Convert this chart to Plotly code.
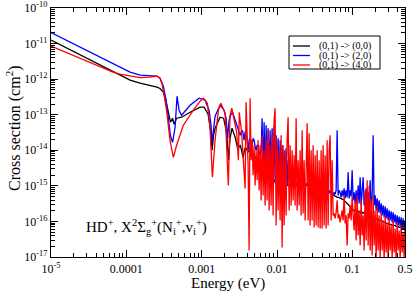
import plotly.graph_objects as go

# ---------------- data ----------------
# low-energy part, each series on its own points
black_E_low = [1.0e-5, 2.4e-5, 4.5e-5, 8.2e-5, 1.12e-4, 1.52e-4, 2.06e-4, 2.55e-4, 2.8e-4, 3.1e-4,
               3.27e-4, 3.47e-4, 3.63e-4, 3.86e-4, 4.11e-4, 4.30e-4, 4.65e-4, 5.41e-4, 7.02e-4, 9.53e-4,
               1.077e-3, 1.217e-3, 1.313e-3, 1.375e-3, 1.44e-3, 1.507e-3, 1.755e-3, 1.953e-3, 2.14e-3, 2.28e-3,
               2.38e-3, 2.53e-3, 2.78e-3, 3.04e-3, 3.14e-3]
black_S_low = [1.26e-11, 4.9e-12, 2.5e-12, 1.30e-12, 9.37e-13, 7.71e-13, 6.78e-13, 5.95e-13, 5.45e-13, 4.30e-13,
               3.11e-13, 1.734e-13, 1.034e-13, 6.15e-14, 7.97e-14, 5.40e-14, 7.97e-14, 8.50e-14, 1.177e-13, 1.625e-13,
               1.625e-13, 1.034e-13, 3.66e-14, 1.0e-14, 2.65e-14, 4.17e-14, 8.50e-14, 7.97e-14, 3.21e-14, 5.23e-15,
               2.18e-14, 4.17e-14, 2.33e-14, 1.0e-14, 1.30e-14]

blue_E_low = [1.0e-5, 2.4e-5, 4.5e-5, 8.2e-5, 1.12e-4, 1.52e-4, 2.06e-4, 2.55e-4, 2.8e-4, 3.1e-4,
              3.37e-4, 3.63e-4, 3.86e-4, 4.11e-4, 4.44e-4, 4.71e-4, 5.01e-4, 5.41e-4, 7.02e-4, 9.24e-4,
              1.109e-3, 1.253e-3, 1.332e-3, 1.375e-3, 1.44e-3, 1.507e-3, 1.755e-3, 1.98e-3, 2.11e-3, 2.21e-3,
              2.31e-3, 2.42e-3, 2.57e-3, 2.90e-3, 3.09e-3, 3.14e-3]
blue_S_low = [2.04e-11, 7.98e-12, 4.17e-12, 2.18e-12, 1.57e-12, 1.30e-12, 1.22e-12, 1.22e-12, 1.07e-12, 6.35e-13,
              2.56e-13, 8.50e-14, 2.48e-14, 1.68e-14, 4.44e-14, 3.32e-13, 1.34e-13, 9.68e-14, 1.85e-13, 2.91e-13,
              2.56e-13, 1.34e-13, 5.06e-14, 1.68e-14, 5.06e-14, 9.07e-14, 1.85e-13, 1.34e-13, 7.97e-14, 2.18e-14,
              7.0e-14, 9.68e-14, 1.177e-13, 5.76e-14, 3.66e-14, 3.01e-14]

red_E_low = [1.0e-5, 2.4e-5, 4.5e-5, 6.65e-5, 8.2e-5, 1.12e-4, 1.52e-4, 2.06e-4, 2.55e-4, 2.8e-4,
             2.98e-4, 3.17e-4, 3.42e-4, 3.80e-4, 4.21e-4, 4.65e-4, 5.71e-4, 7.76e-4, 9.53e-4, 1.058e-3,
             1.19e-3, 1.29e-3, 1.387e-3, 1.507e-3, 1.667e-3, 1.795e-3, 2.05e-3, 2.26e-3, 2.38e-3, 2.51e-3,
             2.69e-3, 2.92e-3, 3.07e-3, 3.16e-3]
red_S_low = [8.51e-12, 3.91e-12, 2.24e-12, 1.57e-12, 1.38e-12, 1.22e-12, 1.10e-12, 1.14e-12, 1.22e-12, 1.07e-12,
             7.2e-13, 3.54e-13, 1.34e-13, 1.91e-14, 6.35e-15, 1.38e-14, 5.06e-14, 1.34e-13, 2.40e-13, 2.91e-13,
             2.11e-13, 4.44e-14, 1.74e-15, 1.91e-14, 1.34e-13, 2.11e-13, 1.10e-13, 1.03e-15, 9.68e-14, 1.52e-13,
             7.0e-14, 3.21e-14, 5.23e-15, 1.177e-13]

# high-energy part: shared energy points (eV)
energy_hi = [
    3.236e-3, 3.337e-3, 3.440e-3, 3.547e-3, 3.657e-3, 3.771e-3, 3.888e-3, 4.009e-3, 4.133e-3, 4.262e-3,
    4.394e-3, 4.530e-3, 4.671e-3, 4.816e-3, 4.966e-3, 5.120e-3, 5.279e-3, 5.443e-3, 5.612e-3, 5.786e-3,
    5.966e-3, 6.151e-3, 6.342e-3, 6.539e-3, 6.742e-3, 6.951e-3, 7.167e-3, 7.390e-3, 7.619e-3, 7.856e-3,
    8.100e-3, 8.351e-3, 8.610e-3, 8.878e-3, 9.153e-3, 9.437e-3, 9.730e-3, 1.0032e-2, 1.0344e-2, 1.0665e-2,
    1.0996e-2, 1.1337e-2, 1.1689e-2, 1.2052e-2, 1.2426e-2, 1.2812e-2, 1.3210e-2, 1.3620e-2, 1.4043e-2, 1.4479e-2,
    1.4928e-2, 1.5392e-2, 1.5869e-2, 1.6362e-2, 1.6870e-2, 1.7394e-2, 1.7934e-2, 1.8491e-2, 1.9065e-2, 1.9657e-2,
    2.0267e-2, 2.0896e-2, 2.1545e-2, 2.2214e-2, 2.2904e-2, 2.3615e-2, 2.4348e-2, 2.5104e-2, 2.5883e-2, 2.6687e-2,
    2.7515e-2, 2.8370e-2, 2.9251e-2, 3.0159e-2, 3.1095e-2, 3.2060e-2, 3.3056e-2, 3.4082e-2, 3.5140e-2, 3.6231e-2,
    3.7356e-2, 3.8516e-2, 3.9712e-2, 4.0945e-2, 4.2216e-2, 4.3527e-2, 4.4878e-2, 4.6271e-2, 4.7708e-2, 4.9189e-2,
    5.0716e-2, 5.2291e-2, 5.3914e-2, 5.5588e-2, 5.7314e-2, 5.9093e-2, 6.0928e-2, 6.2820e-2, 6.4770e-2, 6.6781e-2,
    6.8854e-2, 7.0992e-2, 7.3196e-2, 7.5469e-2, 7.7812e-2, 8.0228e-2, 8.2718e-2, 8.5287e-2, 8.7934e-2, 9.0665e-2,
    9.3480e-2, 9.6382e-2, 9.9374e-2, 0.10246, 0.10564, 0.10892, 0.11230, 0.11579, 0.11938, 0.12309,
    0.12691, 0.13085, 0.13491, 0.13910, 0.14342, 0.14787, 0.15246, 0.15720, 0.16208, 0.16711,
    0.17230, 0.17765, 0.18316, 0.18885, 0.19471, 0.20076, 0.20699, 0.21342, 0.22004, 0.22687,
    0.23392, 0.24118, 0.24867, 0.25639, 0.26435, 0.27255, 0.28102, 0.28974, 0.29874, 0.30801,
    0.31757, 0.32743, 0.33760, 0.34808, 0.35888, 0.37003, 0.38151, 0.39336, 0.40557, 0.41816,
    0.43114, 0.44453, 0.45833, 0.47256, 0.48723, 0.50000]

black_S_hi = [
    1.38e-14, 1.14e-14, 8.78e-15, 6.35e-15, 8.78e-15, 1.14e-14, 1.14e-14, 1.00e-14, 8.78e-15, 1.00e-14,
    1.22e-14, 1.00e-14, 8.78e-15, 7.72e-15, 7.23e-15, 6.35e-15, 5.95e-15, 5.23e-15, 4.59e-15, 4.03e-15,
    3.54e-15, 3.32e-15, 3.11e-15, 2.73e-15, 2.40e-15, 2.40e-15, 2.25e-15, 1.98e-15, 1.85e-15, 1.74e-15,
    1.63e-15, 1.63e-15, 1.53e-15, 1.43e-15, 1.43e-15, 1.34e-15, 1.18e-15, 1.18e-15, 1.10e-15, 1.10e-15,
    1.03e-15, 1.05e-15, 9.9e-16, 1.03e-15, 1.08e-15, 1.03e-15, 9.8e-16, 1.03e-15, 1.06e-15, 1.02e-15,
    1.03e-15, 9.9e-16, 1.04e-15, 1.03e-15, 1.00e-15, 1.05e-15, 1.03e-15, 9.9e-16, 1.03e-15, 1.06e-15,
    1.03e-15, 1.00e-15, 1.03e-15, 1.05e-15, 1.02e-15, 9.9e-16, 1.03e-15, 1.04e-15, 1.01e-15, 1.03e-15,
    1.00e-15, 1.03e-15, 1.05e-15, 1.02e-15, 9.9e-16, 1.03e-15, 1.00e-15, 1.03e-15, 1.04e-15, 1.00e-15,
    1.03e-15, 1.01e-15, 1.03e-15, 9.9e-16, 1.00e-15, 9.68e-16, 8.50e-16, 7.97e-16, 7.47e-16, 7.47e-16,
    7.00e-16, 6.15e-16, 5.76e-16, 5.40e-16, 5.40e-16, 5.06e-16, 5.06e-16, 4.74e-16, 4.74e-16, 4.74e-16,
    4.44e-16, 4.44e-16, 4.16e-16, 4.16e-16, 3.90e-16, 3.66e-16, 3.43e-16, 3.21e-16, 3.01e-16, 2.82e-16,
    2.64e-16, 2.32e-16, 2.18e-16, 2.04e-16, 2.04e-16, 1.91e-16, 2.04e-16, 1.79e-16, 1.91e-16, 1.79e-16,
    1.91e-16, 1.68e-16, 1.79e-16, 1.68e-16, 1.79e-16, 1.68e-16, 1.68e-16, 1.58e-16, 1.58e-16, 1.48e-16,
    1.48e-16, 1.38e-16, 1.38e-16, 1.30e-16, 1.30e-16, 1.22e-16, 1.22e-16, 1.14e-16, 1.14e-16, 1.07e-16,
    1.07e-16, 1.07e-16, 1.00e-16, 1.00e-16, 9.38e-17, 9.38e-17, 8.79e-17, 8.79e-17, 8.79e-17, 8.23e-17,
    8.23e-17, 8.23e-17, 7.71e-17, 7.71e-17, 7.71e-17, 7.71e-17, 7.23e-17, 7.23e-17, 7.23e-17, 6.78e-17,
    6.78e-17, 6.78e-17, 6.35e-17, 6.35e-17, 6.35e-17, 6.35e-17]

blue_S_hi = [
    2.65e-14, 3.21e-14, 3.66e-14, 3.01e-14, 1.91e-14, 3.21e-14, 3.66e-14, 1.91e-14, 1.00e-14, 1.91e-14,
    2.18e-14, 1.68e-14, 1.38e-14, 2.18e-14, 1.91e-14, 1.30e-14, 1.00e-14, 1.38e-14, 1.38e-14, 8.78e-15,
    7.23e-15, 1.00e-14, 7.97e-14, 1.43e-15, 6.15e-14, 1.63e-15, 5.06e-14, 1.26e-15, 4.17e-14, 1.98e-15,
    3.66e-14, 1.18e-15, 4.17e-14, 1.63e-15, 5.06e-14, 1.18e-15, 2.65e-14, 1.43e-15, 2.18e-14, 1.03e-15,
    1.91e-14, 1.18e-15, 1.38e-14, 1.03e-15, 1.00e-14, 1.18e-15, 1.14e-14, 1.03e-15, 5.23e-15, 1.18e-15,
    2.73e-15, 1.03e-15, 1.63e-15, 1.10e-15, 1.26e-15, 1.03e-15, 1.18e-15, 1.10e-15, 1.18e-15, 1.03e-15,
    1.10e-15, 1.18e-15, 1.03e-15, 1.10e-15, 1.26e-15, 1.03e-15, 1.10e-15, 1.18e-15, 1.03e-15, 1.10e-15,
    9.07e-16, 1.03e-15, 8.50e-16, 9.68e-16, 7.47e-16, 1.03e-15, 8.50e-16, 6.56e-16, 9.68e-16, 7.47e-16,
    9.07e-16, 6.15e-16, 8.50e-16, 6.56e-16, 1.03e-15, 6.15e-16, 7.47e-16, 5.40e-16, 8.50e-16, 6.15e-16,
    7.47e-16, 5.76e-16, 7.47e-16, 5.40e-16, 6.56e-16, 5.76e-16, 7.47e-16, 3.66e-14, 5.40e-16, 7.47e-16,
    6.56e-16, 4.74e-16, 7.47e-16, 5.06e-16, 8.50e-16, 4.44e-16, 7.47e-16, 4.74e-16, 2.40e-15, 4.44e-16,
    7.47e-16, 5.06e-16, 2.73e-15, 3.90e-16, 6.56e-16, 3.21e-16, 7.47e-16, 2.82e-16, 1.03e-15, 3.21e-16,
    1.74e-15, 2.82e-16, 7.47e-16, 1.74e-15, 2.82e-16, 5.40e-16, 8.50e-16, 2.48e-16, 6.56e-16, 2.82e-16,
    1.43e-15, 2.48e-16, 5.40e-16, 2.65e-14, 2.82e-16, 5.40e-16, 2.04e-16, 4.44e-16, 1.79e-16, 3.90e-16,
    1.68e-16, 3.21e-16, 1.48e-16, 2.82e-16, 1.30e-16, 2.64e-16, 1.22e-16, 2.32e-16, 1.07e-16, 2.04e-16,
    1.07e-16, 1.91e-16, 9.38e-17, 1.79e-16, 9.38e-17, 1.58e-16, 8.23e-17, 1.48e-16, 7.71e-17, 1.38e-16,
    7.23e-17, 1.30e-16, 6.35e-17, 1.22e-16, 6.35e-17, 1.07e-16]

red_S_hi = [
    7.00e-14, 4.44e-14, 1.91e-14, 5.23e-15, 1.74e-15, 8.50e-16, 2.25e-13, 1.68e-14, 3.78e-15, 1.52e-17,
    2.91e-13, 5.23e-15, 1.91e-14, 1.98e-15, 1.38e-14, 1.03e-15, 1.00e-14, 1.43e-15, 1.91e-14, 7.47e-16,
    1.38e-14, 3.90e-16, 2.65e-14, 5.40e-16, 1.00e-14, 2.82e-16, 1.91e-14, 3.90e-16, 3.66e-14, 2.04e-16,
    1.38e-14, 2.82e-16, 2.65e-14, 1.48e-16, 7.00e-14, 1.52e-13, 7.71e-17, 1.91e-14, 2.04e-16, 1.00e-14,
    1.07e-16, 2.65e-14, 1.85e-17, 1.38e-14, 7.71e-17, 1.00e-14, 1.48e-16, 1.91e-14, 8.50e-14, 2.04e-16,
    1.38e-14, 2.82e-16, 1.00e-14, 3.90e-16, 7.23e-15, 2.82e-16, 7.97e-14, 2.04e-16, 5.23e-15, 2.82e-16,
    1.00e-14, 1.48e-16, 3.66e-14, 1.68e-16, 5.23e-15, 1.07e-16, 1.38e-14, 5.76e-14, 1.07e-16, 3.01e-14,
    7.71e-17, 1.00e-14, 1.07e-16, 1.38e-14, 6.78e-17, 7.23e-15, 7.71e-17, 1.00e-14, 6.78e-17, 5.23e-15,
    6.35e-17, 1.00e-14, 6.35e-17, 1.38e-14, 7.71e-17, 7.23e-15, 6.35e-17, 1.91e-14, 7.71e-17, 1.00e-14,
    2.65e-14, 1.07e-16, 5.23e-15, 1.48e-16, 1.68e-16, 1.22e-16, 1.79e-16, 3.90e-16, 1.22e-16, 1.58e-16,
    9.38e-17, 1.48e-16, 2.04e-16, 1.07e-16, 5.40e-16, 8.79e-17, 1.48e-16, 2.11e-17, 1.68e-16, 1.22e-16,
    2.82e-16, 1.07e-16, 5.06e-16, 1.48e-16, 5.57e-17, 3.90e-16, 2.92e-17, 5.40e-16, 4.03e-17, 2.04e-16,
    2.11e-17, 3.90e-16, 4.03e-17, 1.48e-16, 1.52e-17, 7.47e-16, 2.92e-17, 1.43e-15, 2.11e-17, 1.03e-15,
    1.52e-17, 3.90e-16, 1.10e-17, 5.40e-16, 2.11e-17, 2.04e-16, 9.1e-18, 2.82e-16, 1.52e-17, 1.48e-16,
    9.1e-18, 1.79e-16, 1.52e-17, 1.07e-16, 8.0e-18, 1.48e-16, 1.34e-17, 9.38e-17, 8.0e-18, 1.22e-16,
    1.52e-17, 7.71e-17, 9.1e-18, 1.07e-16, 1.34e-17, 6.35e-17, 8.0e-18, 9.38e-17, 1.52e-17, 5.57e-17,
    9.1e-18, 7.71e-17, 1.34e-17, 4.90e-17, 9.1e-18, 6.35e-17]

series_names = ["(0,1) -> (0,0)", "(0,1) -> (2,0)", "(0,1) -> (4,0)"]
series_colors = ["#000000", "#0000ff", "#ff0000"]

x_tick_vals = [1e-5, 1e-4, 1e-3, 1e-2, 0.1, 0.5]
x_tick_text = ["10<sup>-5</sup>", "0.0001", "0.001", "0.01", "0.1", "0.5"]
y_tick_vals = [1e-17, 1e-16, 1e-15, 1e-14, 1e-13, 1e-12, 1e-11, 1e-10]
y_tick_text = ["10<sup>-17</sup>", "10<sup>-16</sup>", "10<sup>-15</sup>", "10<sup>-14</sup>",
               "10<sup>-13</sup>", "10<sup>-12</sup>", "10<sup>-11</sup>", "10<sup>-10</sup>"]

# ---------------- figure ----------------
FONT = "Liberation Serif, Times New Roman, serif"
W, H = 415, 292
ML, MR, MT, MB = 51, 10, 8, 35
PW, PH = W - ML - MR, H - MT - MB


def px(xp):
    return (xp - ML) / PW


def py(yp):
    return (H - MB - yp) / PH


fig = go.Figure()
xs = [black_E_low + energy_hi, blue_E_low + energy_hi, red_E_low + energy_hi]
ys = [black_S_low + black_S_hi, blue_S_low + blue_S_hi, red_S_low + red_S_hi]
for name, color, xv, yv in zip(series_names, series_colors, xs, ys):
    fig.add_trace(go.Scatter(x=xv, y=yv, mode="lines", name=name,
                             line=dict(color=color, width=1.3), showlegend=False,
                             hoverinfo="skip"))

x_minor = [k * 10.0 ** d for d in range(-5, 0) for k in range(2, 10) if k * 10.0 ** d < 0.5]
y_minor = [k * 10.0 ** d for d in range(-17, -10) for k in range(2, 10)]

axis_common = dict(showgrid=False, zeroline=False, showline=True, linecolor="black", linewidth=1.3,
                   mirror="allticks", ticks="inside", ticklen=7, tickwidth=1.2, tickcolor="black",
                   automargin=False,
                   tickfont=dict(family=FONT, size=12, color="black"))

fig.update_xaxes(type="log", range=[-5, -0.30103], tickmode="array", tickvals=x_tick_vals,
                 ticktext=x_tick_text,
                 minor=dict(tickmode="array", tickvals=x_minor, ticks="inside", ticklen=3.5,
                            tickwidth=1, tickcolor="black", showgrid=False),
                 **axis_common)
fig.update_yaxes(type="log", range=[-17, -10], tickmode="array", tickvals=y_tick_vals,
                 ticktext=y_tick_text,
                 minor=dict(tickmode="array", tickvals=y_minor, ticks="inside", ticklen=3.5,
                            tickwidth=1, tickcolor="black", showgrid=False),
                 **axis_common)

annotations = [
    dict(text="Energy (eV)", xref="paper", yref="paper", x=0.5, y=py(283), xanchor="center",
         yanchor="middle", showarrow=False, font=dict(family=FONT, size=15, color="black")),
    dict(text="Cross section (cm<sup>2</sup>)", xref="paper", yref="paper", x=px(13), y=py(128),
         xanchor="center", yanchor="middle", textangle=-90, showarrow=False,
         font=dict(family=FONT, size=16, color="black")),
    dict(text="HD<sup>+</sup>, X<sup>2</sup>Σ<sub>g</sub><sup>+</sup>(N<sub>i</sub><sup>+</sup>,v<sub>i</sub><sup>+</sup>)",
         xref="paper", yref="paper", x=px(84), y=py(227), xanchor="left", yanchor="middle",
         showarrow=False, font=dict(family=FONT, size=15, color="black")),
]

# hand-made legend box
LEG_TOP, LEG_BOT = 36, 69
shapes = [dict(type="rect", xref="paper", yref="paper", x0=px(289), x1=px(380), y0=py(LEG_BOT), y1=py(LEG_TOP),
               line=dict(color="black", width=1), fillcolor="white", layer="above")]
legend_y = [46, 55.5, 65]
for name, color, ly in zip(series_names, series_colors, legend_y):
    shapes.append(dict(type="line", xref="paper", yref="paper", x0=px(293), x1=px(310),
                       y0=py(ly), y1=py(ly), line=dict(color=color, width=1.3), layer="above"))
    annotations.append(dict(text=name, xref="paper", yref="paper", x=px(317), y=py(ly),
                            xanchor="left", yanchor="middle", showarrow=False,
                            font=dict(family=FONT, size=10, color="black")))

fig.update_layout(width=W, height=H, margin=dict(l=ML, r=MR, t=MT, b=MB, pad=0),
                  paper_bgcolor="white", plot_bgcolor="white", showlegend=False,
                  annotations=annotations, shapes=shapes,
                  font=dict(family=FONT, size=12, color="black"))

fig.write_html("out.html", config={"displayModeBar": False},
               post_script="document.body.style.margin='0px';document.body.style.padding='0px';")
